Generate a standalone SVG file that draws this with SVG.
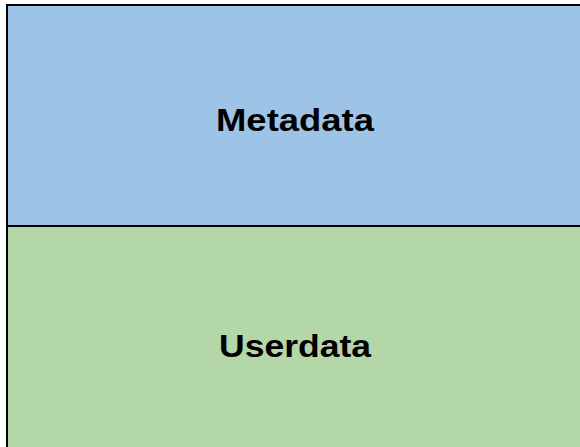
<svg xmlns="http://www.w3.org/2000/svg" width="580" height="447" viewBox="0 0 580 447">
<style>
.lbl{font-family:"Liberation Sans",Arial,sans-serif;font-weight:bold;font-size:32px;fill:#000;text-anchor:middle}
.box{stroke:#000;stroke-width:2}
</style>
<g id="metadata">
<rect class="box" x="7" y="5" width="580" height="221" fill="#9dc3e6"/>
<text class="lbl" x="295" y="131" textLength="158" lengthAdjust="spacingAndGlyphs">Metadata</text>
</g>
<g id="userdata">
<rect class="box" x="7" y="226" width="580" height="230" fill="#b4d7a8"/>
<text class="lbl" x="295" y="357" textLength="152" lengthAdjust="spacingAndGlyphs">Userdata</text>
</g>
<g id="connectors"/>
</svg>
